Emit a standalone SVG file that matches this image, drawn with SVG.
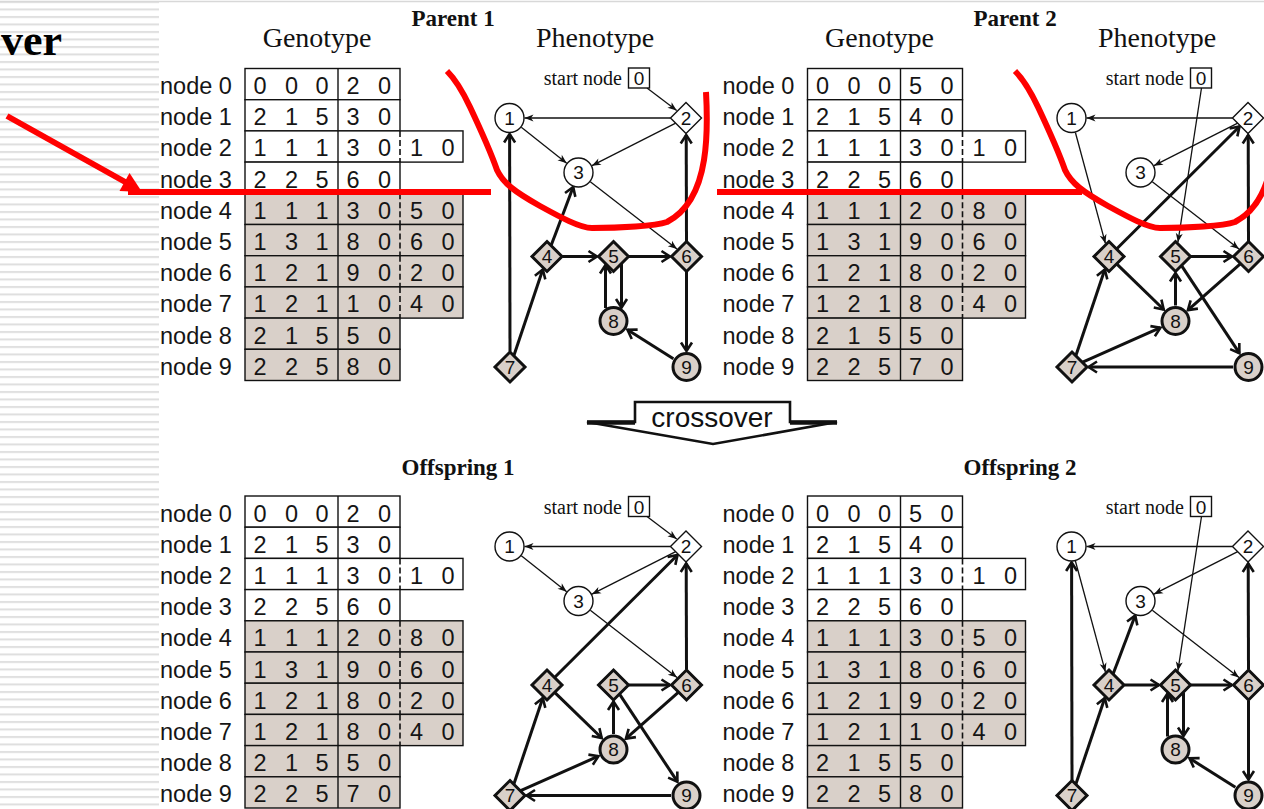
<svg xmlns="http://www.w3.org/2000/svg" width="1264" height="809" viewBox="0 0 1264 809">
<defs>
<style>
.tl{font-family:"Liberation Sans",Arial,sans-serif;font-size:23.5px;fill:#151515}
.td{font-family:"Liberation Sans",Arial,sans-serif;font-size:23.5px;fill:#151515;text-anchor:middle}
.cell{fill:#fff;stroke:#111;stroke-width:1.4}
.cellg{fill:#d9d0c9;stroke:#111;stroke-width:1.4}
.dv{stroke:#111;stroke-width:1.4}
.dash{stroke:#111;stroke-width:1.6;stroke-dasharray:6 3}
.hd{font-family:"Liberation Serif","Times New Roman",serif;font-size:28px;fill:#111}
.hb{font-family:"Liberation Serif","Times New Roman",serif;font-size:23px;font-weight:bold;fill:#111}
.sn{font-family:"Liberation Serif","Times New Roman",serif;font-size:20px;fill:#111;text-anchor:end}
.nw{fill:#fff;stroke:#111;stroke-width:1.4}
.ng{fill:#d9d0c9;stroke:#111;stroke-width:3}
.nl{font-family:"Liberation Sans",Arial,sans-serif;font-size:19px;fill:#111;text-anchor:middle}
.thin{fill:none;stroke:#111;stroke-width:1.3;marker-end:url(#at)}
.thick{fill:none;stroke:#111;stroke-width:3;marker-end:url(#ak)}
.red{fill:none;stroke:#f00;stroke-width:6;stroke-linejoin:round}
</style>
<marker id="at" viewBox="-10 -5 12 10" markerWidth="12" markerHeight="10" refX="0" refY="0" orient="auto" markerUnits="userSpaceOnUse"><path d="M0,0 L-9,-3.5 L-6.5,0 L-9,3.5 Z" fill="#111"/></marker>
<marker id="ak" viewBox="-12 -8 14 16" markerWidth="14" markerHeight="16" refX="0" refY="0" orient="auto" markerUnits="userSpaceOnUse"><path d="M-8.5,-5.5 L0,0 L-8.5,5.5" fill="none" stroke="#111" stroke-width="2.6"/></marker>
<pattern id="stripes" width="160" height="7.5" patternUnits="userSpaceOnUse"><rect x="0" y="1" width="160" height="2" fill="#dedede"/></pattern>
</defs>

<rect x="0" y="0" width="1264" height="809" fill="#fff"/>
<rect id="stripe-band" x="0" y="0" width="159" height="809" fill="url(#stripes)"/>
<line x1="0" y1="1.5" x2="1264" y2="1.5" stroke="#d8d8d8" stroke-width="1.5"/>
<text id="title-fragment" x="1" y="55" font-family="Liberation Serif,'Times New Roman',serif" font-weight="bold" font-size="44" fill="#000">ver</text>

<!-- headers -->
<g id="headers">
<text class="hd" x="262.7" y="46.7">Genotype</text>
<text class="hb" x="411.5" y="26">Parent 1</text>
<text class="hd" x="536" y="46.7">Phenotype</text>
<text class="hd" x="825" y="46.7">Genotype</text>
<text class="hb" x="973.5" y="26">Parent 2</text>
<text class="hd" x="1098" y="46.7">Phenotype</text>
<text class="hb" x="401.5" y="475">Offspring 1</text>
<text class="hb" x="963.5" y="475">Offspring 2</text>
</g>

<!-- ===== Genotype tables ===== -->
<g id="table-parent1">
<g id="t1-r0"><text class="tl" x="160" y="94">node 0</text><rect class="cell" x="245" y="68.5" width="155" height="31.2"/><line class="dv" x1="338" y1="68.5" x2="338" y2="99.7"/><text class="td" x="260 291.5 322 353 384.5" y="94">00020</text></g>
<g id="t1-r1"><text class="tl" x="160" y="125.2">node 1</text><rect class="cell" x="245" y="99.7" width="155" height="31.2"/><line class="dv" x1="338" y1="99.7" x2="338" y2="130.9"/><text class="td" x="260 291.5 322 353 384.5" y="125.2">21530</text></g>
<g id="t1-r2"><text class="tl" x="160" y="156.4">node 2</text><rect class="cell" x="245" y="130.9" width="218" height="31.2"/><line class="dv" x1="338" y1="130.9" x2="338" y2="162.1"/><line class="dash" x1="400" y1="130.9" x2="400" y2="162.1"/><text class="td" x="260 291.5 322 353 384.5 416.5 448" y="156.4">1113010</text></g>
<g id="t1-r3"><text class="tl" x="160" y="187.6">node 3</text><rect class="cell" x="245" y="162.1" width="155" height="31.2"/><line class="dv" x1="338" y1="162.1" x2="338" y2="193.3"/><text class="td" x="260 291.5 322 353 384.5" y="187.6">22560</text></g>
<g id="t1-r4"><text class="tl" x="160" y="218.8">node 4</text><rect class="cellg" x="245" y="193.3" width="218" height="31.2"/><line class="dv" x1="338" y1="193.3" x2="338" y2="224.5"/><line class="dash" x1="400" y1="193.3" x2="400" y2="224.5"/><text class="td" x="260 291.5 322 353 384.5 416.5 448" y="218.8">1113050</text></g>
<g id="t1-r5"><text class="tl" x="160" y="250">node 5</text><rect class="cellg" x="245" y="224.5" width="218" height="31.2"/><line class="dv" x1="338" y1="224.5" x2="338" y2="255.7"/><line class="dash" x1="400" y1="224.5" x2="400" y2="255.7"/><text class="td" x="260 291.5 322 353 384.5 416.5 448" y="250">1318060</text></g>
<g id="t1-r6"><text class="tl" x="160" y="281.2">node 6</text><rect class="cellg" x="245" y="255.7" width="218" height="31.2"/><line class="dv" x1="338" y1="255.7" x2="338" y2="286.9"/><line class="dash" x1="400" y1="255.7" x2="400" y2="286.9"/><text class="td" x="260 291.5 322 353 384.5 416.5 448" y="281.2">1219020</text></g>
<g id="t1-r7"><text class="tl" x="160" y="312.4">node 7</text><rect class="cellg" x="245" y="286.9" width="218" height="31.2"/><line class="dv" x1="338" y1="286.9" x2="338" y2="318.1"/><line class="dash" x1="400" y1="286.9" x2="400" y2="318.1"/><text class="td" x="260 291.5 322 353 384.5 416.5 448" y="312.4">1211040</text></g>
<g id="t1-r8"><text class="tl" x="160" y="343.6">node 8</text><rect class="cellg" x="245" y="318.1" width="155" height="31.2"/><line class="dv" x1="338" y1="318.1" x2="338" y2="349.3"/><text class="td" x="260 291.5 322 353 384.5" y="343.6">21550</text></g>
<g id="t1-r9"><text class="tl" x="160" y="374.8">node 9</text><rect class="cellg" x="245" y="349.3" width="155" height="31.2"/><line class="dv" x1="338" y1="349.3" x2="338" y2="380.5"/><text class="td" x="260 291.5 322 353 384.5" y="374.8">22580</text></g>
</g>

<g id="table-parent2" transform="translate(562.5,0)">
<g id="t2-r0"><text class="tl" x="160" y="94">node 0</text><rect class="cell" x="245" y="68.5" width="155" height="31.2"/><line class="dv" x1="338" y1="68.5" x2="338" y2="99.7"/><text class="td" x="260 291.5 322 353 384.5" y="94">00050</text></g>
<g id="t2-r1"><text class="tl" x="160" y="125.2">node 1</text><rect class="cell" x="245" y="99.7" width="155" height="31.2"/><line class="dv" x1="338" y1="99.7" x2="338" y2="130.9"/><text class="td" x="260 291.5 322 353 384.5" y="125.2">21540</text></g>
<g id="t2-r2"><text class="tl" x="160" y="156.4">node 2</text><rect class="cell" x="245" y="130.9" width="218" height="31.2"/><line class="dv" x1="338" y1="130.9" x2="338" y2="162.1"/><line class="dash" x1="400" y1="130.9" x2="400" y2="162.1"/><text class="td" x="260 291.5 322 353 384.5 416.5 448" y="156.4">1113010</text></g>
<g id="t2-r3"><text class="tl" x="160" y="187.6">node 3</text><rect class="cell" x="245" y="162.1" width="155" height="31.2"/><line class="dv" x1="338" y1="162.1" x2="338" y2="193.3"/><text class="td" x="260 291.5 322 353 384.5" y="187.6">22560</text></g>
<g id="t2-r4"><text class="tl" x="160" y="218.8">node 4</text><rect class="cellg" x="245" y="193.3" width="218" height="31.2"/><line class="dv" x1="338" y1="193.3" x2="338" y2="224.5"/><line class="dash" x1="400" y1="193.3" x2="400" y2="224.5"/><text class="td" x="260 291.5 322 353 384.5 416.5 448" y="218.8">1112080</text></g>
<g id="t2-r5"><text class="tl" x="160" y="250">node 5</text><rect class="cellg" x="245" y="224.5" width="218" height="31.2"/><line class="dv" x1="338" y1="224.5" x2="338" y2="255.7"/><line class="dash" x1="400" y1="224.5" x2="400" y2="255.7"/><text class="td" x="260 291.5 322 353 384.5 416.5 448" y="250">1319060</text></g>
<g id="t2-r6"><text class="tl" x="160" y="281.2">node 6</text><rect class="cellg" x="245" y="255.7" width="218" height="31.2"/><line class="dv" x1="338" y1="255.7" x2="338" y2="286.9"/><line class="dash" x1="400" y1="255.7" x2="400" y2="286.9"/><text class="td" x="260 291.5 322 353 384.5 416.5 448" y="281.2">1218020</text></g>
<g id="t2-r7"><text class="tl" x="160" y="312.4">node 7</text><rect class="cellg" x="245" y="286.9" width="218" height="31.2"/><line class="dv" x1="338" y1="286.9" x2="338" y2="318.1"/><line class="dash" x1="400" y1="286.9" x2="400" y2="318.1"/><text class="td" x="260 291.5 322 353 384.5 416.5 448" y="312.4">1218040</text></g>
<g id="t2-r8"><text class="tl" x="160" y="343.6">node 8</text><rect class="cellg" x="245" y="318.1" width="155" height="31.2"/><line class="dv" x1="338" y1="318.1" x2="338" y2="349.3"/><text class="td" x="260 291.5 322 353 384.5" y="343.6">21550</text></g>
<g id="t2-r9"><text class="tl" x="160" y="374.8">node 9</text><rect class="cellg" x="245" y="349.3" width="155" height="31.2"/><line class="dv" x1="338" y1="349.3" x2="338" y2="380.5"/><text class="td" x="260 291.5 322 353 384.5" y="374.8">22570</text></g>
</g>

<g id="table-offspring1" transform="translate(0,427.5)">
<g id="t3-r0"><text class="tl" x="160" y="94">node 0</text><rect class="cell" x="245" y="68.5" width="155" height="31.2"/><line class="dv" x1="338" y1="68.5" x2="338" y2="99.7"/><text class="td" x="260 291.5 322 353 384.5" y="94">00020</text></g>
<g id="t3-r1"><text class="tl" x="160" y="125.2">node 1</text><rect class="cell" x="245" y="99.7" width="155" height="31.2"/><line class="dv" x1="338" y1="99.7" x2="338" y2="130.9"/><text class="td" x="260 291.5 322 353 384.5" y="125.2">21530</text></g>
<g id="t3-r2"><text class="tl" x="160" y="156.4">node 2</text><rect class="cell" x="245" y="130.9" width="218" height="31.2"/><line class="dv" x1="338" y1="130.9" x2="338" y2="162.1"/><line class="dash" x1="400" y1="130.9" x2="400" y2="162.1"/><text class="td" x="260 291.5 322 353 384.5 416.5 448" y="156.4">1113010</text></g>
<g id="t3-r3"><text class="tl" x="160" y="187.6">node 3</text><rect class="cell" x="245" y="162.1" width="155" height="31.2"/><line class="dv" x1="338" y1="162.1" x2="338" y2="193.3"/><text class="td" x="260 291.5 322 353 384.5" y="187.6">22560</text></g>
<g id="t3-r4"><text class="tl" x="160" y="218.8">node 4</text><rect class="cellg" x="245" y="193.3" width="218" height="31.2"/><line class="dv" x1="338" y1="193.3" x2="338" y2="224.5"/><line class="dash" x1="400" y1="193.3" x2="400" y2="224.5"/><text class="td" x="260 291.5 322 353 384.5 416.5 448" y="218.8">1112080</text></g>
<g id="t3-r5"><text class="tl" x="160" y="250">node 5</text><rect class="cellg" x="245" y="224.5" width="218" height="31.2"/><line class="dv" x1="338" y1="224.5" x2="338" y2="255.7"/><line class="dash" x1="400" y1="224.5" x2="400" y2="255.7"/><text class="td" x="260 291.5 322 353 384.5 416.5 448" y="250">1319060</text></g>
<g id="t3-r6"><text class="tl" x="160" y="281.2">node 6</text><rect class="cellg" x="245" y="255.7" width="218" height="31.2"/><line class="dv" x1="338" y1="255.7" x2="338" y2="286.9"/><line class="dash" x1="400" y1="255.7" x2="400" y2="286.9"/><text class="td" x="260 291.5 322 353 384.5 416.5 448" y="281.2">1218020</text></g>
<g id="t3-r7"><text class="tl" x="160" y="312.4">node 7</text><rect class="cellg" x="245" y="286.9" width="218" height="31.2"/><line class="dv" x1="338" y1="286.9" x2="338" y2="318.1"/><line class="dash" x1="400" y1="286.9" x2="400" y2="318.1"/><text class="td" x="260 291.5 322 353 384.5 416.5 448" y="312.4">1218040</text></g>
<g id="t3-r8"><text class="tl" x="160" y="343.6">node 8</text><rect class="cellg" x="245" y="318.1" width="155" height="31.2"/><line class="dv" x1="338" y1="318.1" x2="338" y2="349.3"/><text class="td" x="260 291.5 322 353 384.5" y="343.6">21550</text></g>
<g id="t3-r9"><text class="tl" x="160" y="374.8">node 9</text><rect class="cellg" x="245" y="349.3" width="155" height="31.2"/><line class="dv" x1="338" y1="349.3" x2="338" y2="380.5"/><text class="td" x="260 291.5 322 353 384.5" y="374.8">22570</text></g>
</g>

<g id="table-offspring2" transform="translate(562.5,427.5)">
<g id="t4-r0"><text class="tl" x="160" y="94">node 0</text><rect class="cell" x="245" y="68.5" width="155" height="31.2"/><line class="dv" x1="338" y1="68.5" x2="338" y2="99.7"/><text class="td" x="260 291.5 322 353 384.5" y="94">00050</text></g>
<g id="t4-r1"><text class="tl" x="160" y="125.2">node 1</text><rect class="cell" x="245" y="99.7" width="155" height="31.2"/><line class="dv" x1="338" y1="99.7" x2="338" y2="130.9"/><text class="td" x="260 291.5 322 353 384.5" y="125.2">21540</text></g>
<g id="t4-r2"><text class="tl" x="160" y="156.4">node 2</text><rect class="cell" x="245" y="130.9" width="218" height="31.2"/><line class="dv" x1="338" y1="130.9" x2="338" y2="162.1"/><line class="dash" x1="400" y1="130.9" x2="400" y2="162.1"/><text class="td" x="260 291.5 322 353 384.5 416.5 448" y="156.4">1113010</text></g>
<g id="t4-r3"><text class="tl" x="160" y="187.6">node 3</text><rect class="cell" x="245" y="162.1" width="155" height="31.2"/><line class="dv" x1="338" y1="162.1" x2="338" y2="193.3"/><text class="td" x="260 291.5 322 353 384.5" y="187.6">22560</text></g>
<g id="t4-r4"><text class="tl" x="160" y="218.8">node 4</text><rect class="cellg" x="245" y="193.3" width="218" height="31.2"/><line class="dv" x1="338" y1="193.3" x2="338" y2="224.5"/><line class="dash" x1="400" y1="193.3" x2="400" y2="224.5"/><text class="td" x="260 291.5 322 353 384.5 416.5 448" y="218.8">1113050</text></g>
<g id="t4-r5"><text class="tl" x="160" y="250">node 5</text><rect class="cellg" x="245" y="224.5" width="218" height="31.2"/><line class="dv" x1="338" y1="224.5" x2="338" y2="255.7"/><line class="dash" x1="400" y1="224.5" x2="400" y2="255.7"/><text class="td" x="260 291.5 322 353 384.5 416.5 448" y="250">1318060</text></g>
<g id="t4-r6"><text class="tl" x="160" y="281.2">node 6</text><rect class="cellg" x="245" y="255.7" width="218" height="31.2"/><line class="dv" x1="338" y1="255.7" x2="338" y2="286.9"/><line class="dash" x1="400" y1="255.7" x2="400" y2="286.9"/><text class="td" x="260 291.5 322 353 384.5 416.5 448" y="281.2">1219020</text></g>
<g id="t4-r7"><text class="tl" x="160" y="312.4">node 7</text><rect class="cellg" x="245" y="286.9" width="218" height="31.2"/><line class="dv" x1="338" y1="286.9" x2="338" y2="318.1"/><line class="dash" x1="400" y1="286.9" x2="400" y2="318.1"/><text class="td" x="260 291.5 322 353 384.5 416.5 448" y="312.4">1211040</text></g>
<g id="t4-r8"><text class="tl" x="160" y="343.6">node 8</text><rect class="cellg" x="245" y="318.1" width="155" height="31.2"/><line class="dv" x1="338" y1="318.1" x2="338" y2="349.3"/><text class="td" x="260 291.5 322 353 384.5" y="343.6">21550</text></g>
<g id="t4-r9"><text class="tl" x="160" y="374.8">node 9</text><rect class="cellg" x="245" y="349.3" width="155" height="31.2"/><line class="dv" x1="338" y1="349.3" x2="338" y2="380.5"/><text class="td" x="260 291.5 322 353 384.5" y="374.8">22580</text></g>
</g>

<!-- ===== Phenotype graphs ===== -->
<!-- Parent 1 -->
<g id="graph-parent1">
<g id="p1-connectors">
<path class="thin" d="M647,88 L676.7,110.4"/>
<path class="thin" d="M521.3,127.3 L566.7,163.2"/>
<path class="thin" d="M675.7,123.2 L591.9,165.7"/>
<path class="thin" d="M670.5,118 L524.5,118"/>
<path class="thin" d="M590.3,181.7 L677,249.1"/>
<path class="thick" d="M551.2,245.3 L573.2,187"/>
<path class="thick" d="M562.5,256.5 L597,256.5"/>
<path class="thick" d="M621.5,264 L621.5,307.5"/>
<path class="thick" d="M605.5,308 L605.5,265"/>
<path class="thick" d="M629,256.5 L670,256.5"/>
<path class="thick" d="M686.5,272 L686.5,351"/>
<path class="thick" d="M686.5,241 L686.2,135"/>
<path class="thick" d="M510,351.5 L509.6,134"/>
<path class="thick" d="M513.9,355.4 L542.8,269.5"/>
<path class="thick" d="M673.4,358.7 L627.5,329.8"/>
</g>
<g id="p1-n0"><text class="sn" x="622" y="85">start node</text><rect class="nw" x="628.5" y="68" width="21" height="20"/><text class="nl" x="639" y="85">0</text></g>
<g id="p1-n1"><circle class="nw" cx="509.5" cy="118" r="14.5"/><text class="nl" x="509.5" y="124.8">1</text></g>
<g id="p1-n2"><polygon class="nw" points="686,102.5 701.5,118 686,133.5 670.5,118"/><text class="nl" x="686" y="124.8">2</text></g>
<g id="p1-n3"><circle class="nw" cx="578.5" cy="172.5" r="14.5"/><text class="nl" x="578.5" y="179.3">3</text></g>
<g id="p1-n4"><polygon class="ng" points="547,241.5 562,256.5 547,271.5 532,256.5"/><text class="nl" x="547" y="263.3">4</text></g>
<g id="p1-n5"><polygon class="ng" points="613.5,241.5 628.5,256.5 613.5,271.5 598.5,256.5"/><text class="nl" x="613.5" y="263.3">5</text></g>
<g id="p1-n6"><polygon class="ng" points="686.5,241.5 701.5,256.5 686.5,271.5 671.5,256.5"/><text class="nl" x="686.5" y="263.3">6</text></g>
<g id="p1-n7"><polygon class="ng" points="510,352 525,367 510,382 495,367"/><text class="nl" x="510" y="373.8">7</text></g>
<g id="p1-n8"><circle class="ng" cx="613.5" cy="321" r="13.5"/><text class="nl" x="613.5" y="327.8">8</text></g>
<g id="p1-n9"><circle class="ng" cx="686.5" cy="367" r="13.5"/><text class="nl" x="686.5" y="373.8">9</text></g>
</g>

<!-- Parent 2 -->
<g id="graph-parent2" transform="translate(562,0)">
<g id="p2-connectors">
<path class="thin" d="M639.5,88 L615.9,242.3"/>
<path class="thin" d="M513.4,132.5 L543.4,243.4"/>
<path class="thin" d="M675.7,123.2 L591.9,165.7"/>
<path class="thin" d="M670.5,118 L524.5,118"/>
<path class="thin" d="M590.3,181.7 L677,249.1"/>
<path class="thick" d="M554.8,248.7 L677.5,126.5"/>
<path class="thick" d="M554.9,264.2 L601.7,309.5"/>
<path class="thick" d="M619.7,265.8 L677.4,353.2"/>
<path class="thick" d="M629,256.5 L670,256.5"/>
<path class="thick" d="M678.3,263.8 L625.9,310.1"/>
<path class="thick" d="M686.5,241 L686.2,135"/>
<path class="thick" d="M520.7,362.2 L598.4,327.7"/>
<path class="thick" d="M513.9,355.4 L542.8,269.5"/>
<path class="thick" d="M613.5,305.5 L613.5,273"/>
<path class="thick" d="M671,367 L526.5,367"/>
</g>
<g id="p2-n0"><text class="sn" x="622" y="85">start node</text><rect class="nw" x="628.5" y="68" width="21" height="20"/><text class="nl" x="639" y="85">0</text></g>
<g id="p2-n1"><circle class="nw" cx="509.5" cy="118" r="14.5"/><text class="nl" x="509.5" y="124.8">1</text></g>
<g id="p2-n2"><polygon class="nw" points="686,102.5 701.5,118 686,133.5 670.5,118"/><text class="nl" x="686" y="124.8">2</text></g>
<g id="p2-n3"><circle class="nw" cx="578.5" cy="172.5" r="14.5"/><text class="nl" x="578.5" y="179.3">3</text></g>
<g id="p2-n4"><polygon class="ng" points="547,241.5 562,256.5 547,271.5 532,256.5"/><text class="nl" x="547" y="263.3">4</text></g>
<g id="p2-n5"><polygon class="ng" points="613.5,241.5 628.5,256.5 613.5,271.5 598.5,256.5"/><text class="nl" x="613.5" y="263.3">5</text></g>
<g id="p2-n6"><polygon class="ng" points="686.5,241.5 701.5,256.5 686.5,271.5 671.5,256.5"/><text class="nl" x="686.5" y="263.3">6</text></g>
<g id="p2-n7"><polygon class="ng" points="510,352 525,367 510,382 495,367"/><text class="nl" x="510" y="373.8">7</text></g>
<g id="p2-n8"><circle class="ng" cx="613.5" cy="321" r="13.5"/><text class="nl" x="613.5" y="327.8">8</text></g>
<g id="p2-n9"><circle class="ng" cx="686.5" cy="367" r="13.5"/><text class="nl" x="686.5" y="373.8">9</text></g>
</g>

<!-- Offspring 1 -->
<g id="graph-offspring1" transform="translate(0,428.5)">
<g id="o1-connectors">
<path class="thin" d="M647,88 L676.7,110.4"/>
<path class="thin" d="M521.3,127.3 L566.7,163.2"/>
<path class="thin" d="M675.7,123.2 L591.9,165.7"/>
<path class="thin" d="M670.5,118 L524.5,118"/>
<path class="thin" d="M590.3,181.7 L677,249.1"/>
<path class="thick" d="M554.8,248.7 L677.5,126.5"/>
<path class="thick" d="M554.9,264.2 L601.7,309.5"/>
<path class="thick" d="M619.7,265.8 L677.4,353.2"/>
<path class="thick" d="M629,256.5 L670,256.5"/>
<path class="thick" d="M678.3,263.8 L625.9,310.1"/>
<path class="thick" d="M686.5,241 L686.2,135"/>
<path class="thick" d="M520.7,362.2 L598.4,327.7"/>
<path class="thick" d="M513.9,355.4 L542.8,269.5"/>
<path class="thick" d="M613.5,305.5 L613.5,273"/>
<path class="thick" d="M671,367 L526.5,367"/>
</g>
<g id="o1-n0"><text class="sn" x="622" y="85">start node</text><rect class="nw" x="628.5" y="68" width="21" height="20"/><text class="nl" x="639" y="85">0</text></g>
<g id="o1-n1"><circle class="nw" cx="509.5" cy="118" r="14.5"/><text class="nl" x="509.5" y="124.8">1</text></g>
<g id="o1-n2"><polygon class="nw" points="686,102.5 701.5,118 686,133.5 670.5,118"/><text class="nl" x="686" y="124.8">2</text></g>
<g id="o1-n3"><circle class="nw" cx="578.5" cy="172.5" r="14.5"/><text class="nl" x="578.5" y="179.3">3</text></g>
<g id="o1-n4"><polygon class="ng" points="547,241.5 562,256.5 547,271.5 532,256.5"/><text class="nl" x="547" y="263.3">4</text></g>
<g id="o1-n5"><polygon class="ng" points="613.5,241.5 628.5,256.5 613.5,271.5 598.5,256.5"/><text class="nl" x="613.5" y="263.3">5</text></g>
<g id="o1-n6"><polygon class="ng" points="686.5,241.5 701.5,256.5 686.5,271.5 671.5,256.5"/><text class="nl" x="686.5" y="263.3">6</text></g>
<g id="o1-n7"><polygon class="ng" points="510,352 525,367 510,382 495,367"/><text class="nl" x="510" y="373.8">7</text></g>
<g id="o1-n8"><circle class="ng" cx="613.5" cy="321" r="13.5"/><text class="nl" x="613.5" y="327.8">8</text></g>
<g id="o1-n9"><circle class="ng" cx="686.5" cy="367" r="13.5"/><text class="nl" x="686.5" y="373.8">9</text></g>
</g>

<!-- Offspring 2 -->
<g id="graph-offspring2" transform="translate(562,428.5)">
<g id="o2-connectors">
<path class="thin" d="M639.5,88 L615.9,242.3"/>
<path class="thin" d="M513.4,132.5 L543.4,243.4"/>
<path class="thin" d="M675.7,123.2 L591.9,165.7"/>
<path class="thin" d="M670.5,118 L524.5,118"/>
<path class="thin" d="M590.3,181.7 L677,249.1"/>
<path class="thick" d="M551.2,245.3 L573.2,187"/>
<path class="thick" d="M562.5,256.5 L597,256.5"/>
<path class="thick" d="M621.5,264 L621.5,307.5"/>
<path class="thick" d="M605.5,308 L605.5,265"/>
<path class="thick" d="M629,256.5 L670,256.5"/>
<path class="thick" d="M686.5,272 L686.5,351"/>
<path class="thick" d="M686.5,241 L686.2,135"/>
<path class="thick" d="M510,351.5 L509.6,134"/>
<path class="thick" d="M513.9,355.4 L542.8,269.5"/>
<path class="thick" d="M673.4,358.7 L627.5,329.8"/>
</g>
<g id="o2-n0"><text class="sn" x="622" y="85">start node</text><rect class="nw" x="628.5" y="68" width="21" height="20"/><text class="nl" x="639" y="85">0</text></g>
<g id="o2-n1"><circle class="nw" cx="509.5" cy="118" r="14.5"/><text class="nl" x="509.5" y="124.8">1</text></g>
<g id="o2-n2"><polygon class="nw" points="686,102.5 701.5,118 686,133.5 670.5,118"/><text class="nl" x="686" y="124.8">2</text></g>
<g id="o2-n3"><circle class="nw" cx="578.5" cy="172.5" r="14.5"/><text class="nl" x="578.5" y="179.3">3</text></g>
<g id="o2-n4"><polygon class="ng" points="547,241.5 562,256.5 547,271.5 532,256.5"/><text class="nl" x="547" y="263.3">4</text></g>
<g id="o2-n5"><polygon class="ng" points="613.5,241.5 628.5,256.5 613.5,271.5 598.5,256.5"/><text class="nl" x="613.5" y="263.3">5</text></g>
<g id="o2-n6"><polygon class="ng" points="686.5,241.5 701.5,256.5 686.5,271.5 671.5,256.5"/><text class="nl" x="686.5" y="263.3">6</text></g>
<g id="o2-n7"><polygon class="ng" points="510,352 525,367 510,382 495,367"/><text class="nl" x="510" y="373.8">7</text></g>
<g id="o2-n8"><circle class="ng" cx="613.5" cy="321" r="13.5"/><text class="nl" x="613.5" y="327.8">8</text></g>
<g id="o2-n9"><circle class="ng" cx="686.5" cy="367" r="13.5"/><text class="nl" x="686.5" y="373.8">9</text></g>
</g>

<!-- crossover arrow -->
<g id="crossover">
<polygon points="635,402 790,402 790,422 837,422 713,444 587,422 635,422" fill="#fff" stroke="#111" stroke-width="2.6" stroke-linejoin="miter"/>
<line x1="587" y1="422.5" x2="635" y2="422.5" stroke="#111" stroke-width="4.5"/>
<line x1="790" y1="422.5" x2="837" y2="422.5" stroke="#111" stroke-width="4.5"/>
<text x="712" y="427" text-anchor="middle" font-family="Liberation Sans,Arial,sans-serif" font-size="28" fill="#111">crossover</text>
</g>

<!-- red annotations -->
<g id="red-annotations">
<line class="red" x1="7" y1="116" x2="127" y2="183"/>
<polygon points="142,192 119.5,191 129.5,173" fill="#f00"/>
<line class="red" x1="128" y1="192" x2="491" y2="192"/>
<line class="red" x1="717" y1="192" x2="1082" y2="192"/>
<path id="red-curve-1" class="red" d="M447,71 C455,79 462,90 470,107 C478,124 490,150 497,170 C503,183 515,192 540,206 C560,217 580,228 592,228 C620,228 655,226 667,222 C690,210 700,185 704,160 C708,135 707,110 706,92"/>
<path id="red-curve-2" class="red" transform="translate(568,0)" d="M447,71 C455,79 462,90 470,107 C478,124 490,150 497,170 C503,183 515,192 540,206 C560,217 580,228 592,228 C620,228 655,226 667,222 C690,210 700,185 704,160 C708,135 707,110 706,92"/>
</g>
</svg>
